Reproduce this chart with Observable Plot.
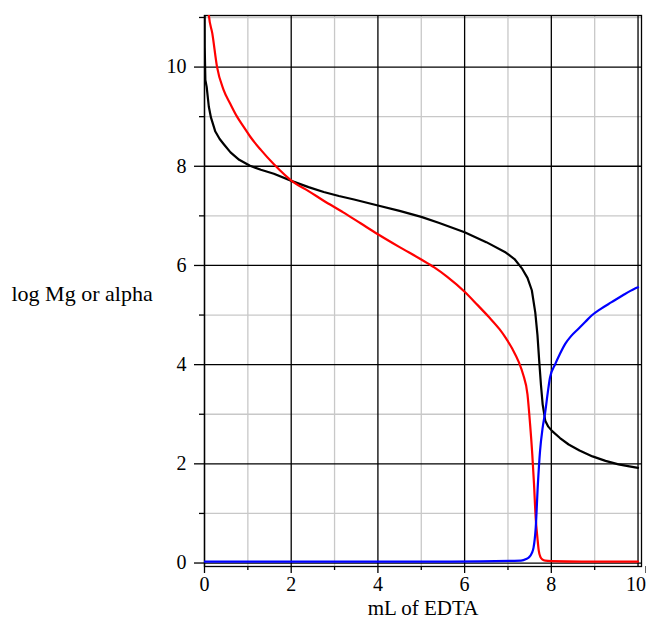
<!DOCTYPE html>
<html>
<head>
<meta charset="utf-8">
<script src="https://cdn.jsdelivr.net/npm/d3@7"></script>
<script src="https://cdn.jsdelivr.net/npm/@observablehq/plot@0.6"></script>
<style>
  html, body { margin: 0; padding: 0; background: #fff; }
</style>
</head>
<body>
<div id="chart"></div>
<script>
// Black curve (log Mg)
const blackX = [0, 0.005, 0.02, 0.05, 0.1, 0.15, 0.25, 0.35, 0.45, 0.6, 0.8, 1.05, 1.3, 1.6, 2.05, 2.4, 2.75, 3.1, 3.45, 4, 4.5, 5, 5.4, 6, 6.5, 6.95, 7.15, 7.33, 7.45, 7.55, 7.63, 7.68, 7.72, 7.76, 7.8, 7.86, 7.93, 8.02, 8.2, 8.4, 8.65, 8.95, 9.25, 9.55, 9.8, 10];
const blackY = [12, 10.4, 9.74, 9.6, 9.2, 8.98, 8.7, 8.55, 8.44, 8.28, 8.13, 8.01, 7.93, 7.85, 7.69, 7.58, 7.48, 7.4, 7.33, 7.21, 7.1, 6.98, 6.86, 6.67, 6.47, 6.26, 6.13, 5.93, 5.75, 5.5, 5.05, 4.6, 4.08, 3.6, 3.2, 2.87, 2.75, 2.66, 2.52, 2.39, 2.27, 2.15, 2.06, 1.99, 1.95, 1.92];
// Red curve
const redX = [0.05, 0.1, 0.18, 0.29, 0.44, 0.6, 0.75, 0.9, 1.06, 1.3, 1.59, 2.05, 2.4, 2.74, 3.2, 3.6, 4, 4.5, 5, 5.3, 5.6, 6, 6.3, 6.56, 6.8, 6.94, 7.1, 7.25, 7.35, 7.45, 7.51, 7.56, 7.6, 7.64, 7.68, 7.71, 7.75, 7.8, 7.86, 8, 8.7, 10];
const redY = [11.8, 11.05, 10.68, 10.0, 9.54, 9.25, 9.0, 8.8, 8.59, 8.33, 8.05, 7.68, 7.5, 7.31, 7.07, 6.85, 6.63, 6.37, 6.12, 5.96, 5.77, 5.47, 5.2, 4.96, 4.72, 4.55, 4.32, 4.05, 3.8, 3.4, 2.8, 2.2, 1.6, 0.9, 0.5, 0.25, 0.12, 0.07, 0.05, 0.04, 0.03, 0.03];
// Blue curve (alpha)
const blueX = [0, 5.7, 7.3, 7.42, 7.48, 7.55, 7.59, 7.64, 7.69, 7.74, 7.8, 7.86, 7.92, 7.97, 8.09, 8.2, 8.32, 8.45, 8.62, 8.78, 8.93, 9.15, 9.39, 9.65, 9.92, 10];
const blueY = [0.03, 0.03, 0.05, 0.08, 0.11, 0.2, 0.31, 0.71, 1.59, 2.26, 2.73, 3.05, 3.45, 3.74, 4.01, 4.22, 4.42, 4.57, 4.72, 4.86, 4.99, 5.13, 5.26, 5.4, 5.53, 5.56];

const xMajor = [0, 2, 4, 6, 8];
const xLast = [10];
const xMinor = [1, 3, 5, 7, 9];
const yMajor = [0, 2, 4, 6, 8, 10];
const yMinor = [1, 3, 5, 7, 9, 11];
const xLabel = "mL of EDTA";
const yLabel = "log Mg or alpha";

const toPts = (xs, ys) => xs.map((x, i) => ({x, y: ys[i]}));
const black = toPts(blackX, blackY);
const red = toPts(redX, redY);
const blue = toPts(blueX, blueY);

const chart = Plot.plot({
  width: 646,
  height: 619,
  marginLeft: 204,
  marginRight: 5,
  marginTop: 15,
  marginBottom: 53,
  style: {fontFamily: "'Liberation Serif', 'Times New Roman', serif", fontSize: "20px", color: "#000", background: "#fff"},
  x: {domain: [0, 10.08]},
  y: {domain: [-0.07, 11.04]},
  marks: [
    Plot.ruleX(xMinor, {stroke: "#c8c8c8", strokeWidth: 1.3}),
    Plot.ruleY(yMinor, {stroke: "#c8c8c8", strokeWidth: 1.3}),
    Plot.ruleX(xMajor.concat(xLast), {stroke: "#000", strokeWidth: 1.3}),
    Plot.ruleY(yMajor, {stroke: "#000", strokeWidth: 1.3}),
    Plot.frame({stroke: "#000", strokeWidth: 1.3}),
    Plot.axisX({ticks: xMajor, tickSize: 7, tickPadding: 3, tickFormat: d => String(d), label: null, stroke: "#000", strokeWidth: 1.3}),
    Plot.axisX({ticks: xLast, tickSize: 7, tickPadding: 3, tickFormat: d => String(d), textAnchor: "end", dx: 8, label: null, stroke: "#000", strokeWidth: 1.3}),
    Plot.axisX({ticks: xMinor, tickSize: 4, tickFormat: () => "", label: null, stroke: "#000", strokeWidth: 1.3}),
    Plot.axisY({ticks: yMajor, tickSize: 10, tickPadding: 8, tickFormat: d => String(d), label: null, stroke: "#000", strokeWidth: 1.3}),
    Plot.axisY({ticks: yMinor, tickSize: 5, tickFormat: () => "", label: null, stroke: "#000", strokeWidth: 1.3}),
    Plot.line(black, {x: "x", y: "y", stroke: "#000", strokeWidth: 2.2, clip: true}),
    Plot.line(red, {x: "x", y: "y", stroke: "#ff0000", strokeWidth: 2.2, curve: "monotone-x", clip: true}),
    Plot.line(blue, {x: "x", y: "y", stroke: "#0000ff", strokeWidth: 2.2, curve: "monotone-x", clip: true}),
    Plot.text([yLabel], {text: d => d, frameAnchor: "left", textAnchor: "start", dx: -193, dy: 3, fill: "#000", fontSize: 22}),
    Plot.text([xLabel], {text: d => d, frameAnchor: "bottom", lineAnchor: "bottom", dy: 48, fill: "#000", fontSize: 21})
  ]
});
document.getElementById("chart").appendChild(chart);
</script>
</body>
</html>
